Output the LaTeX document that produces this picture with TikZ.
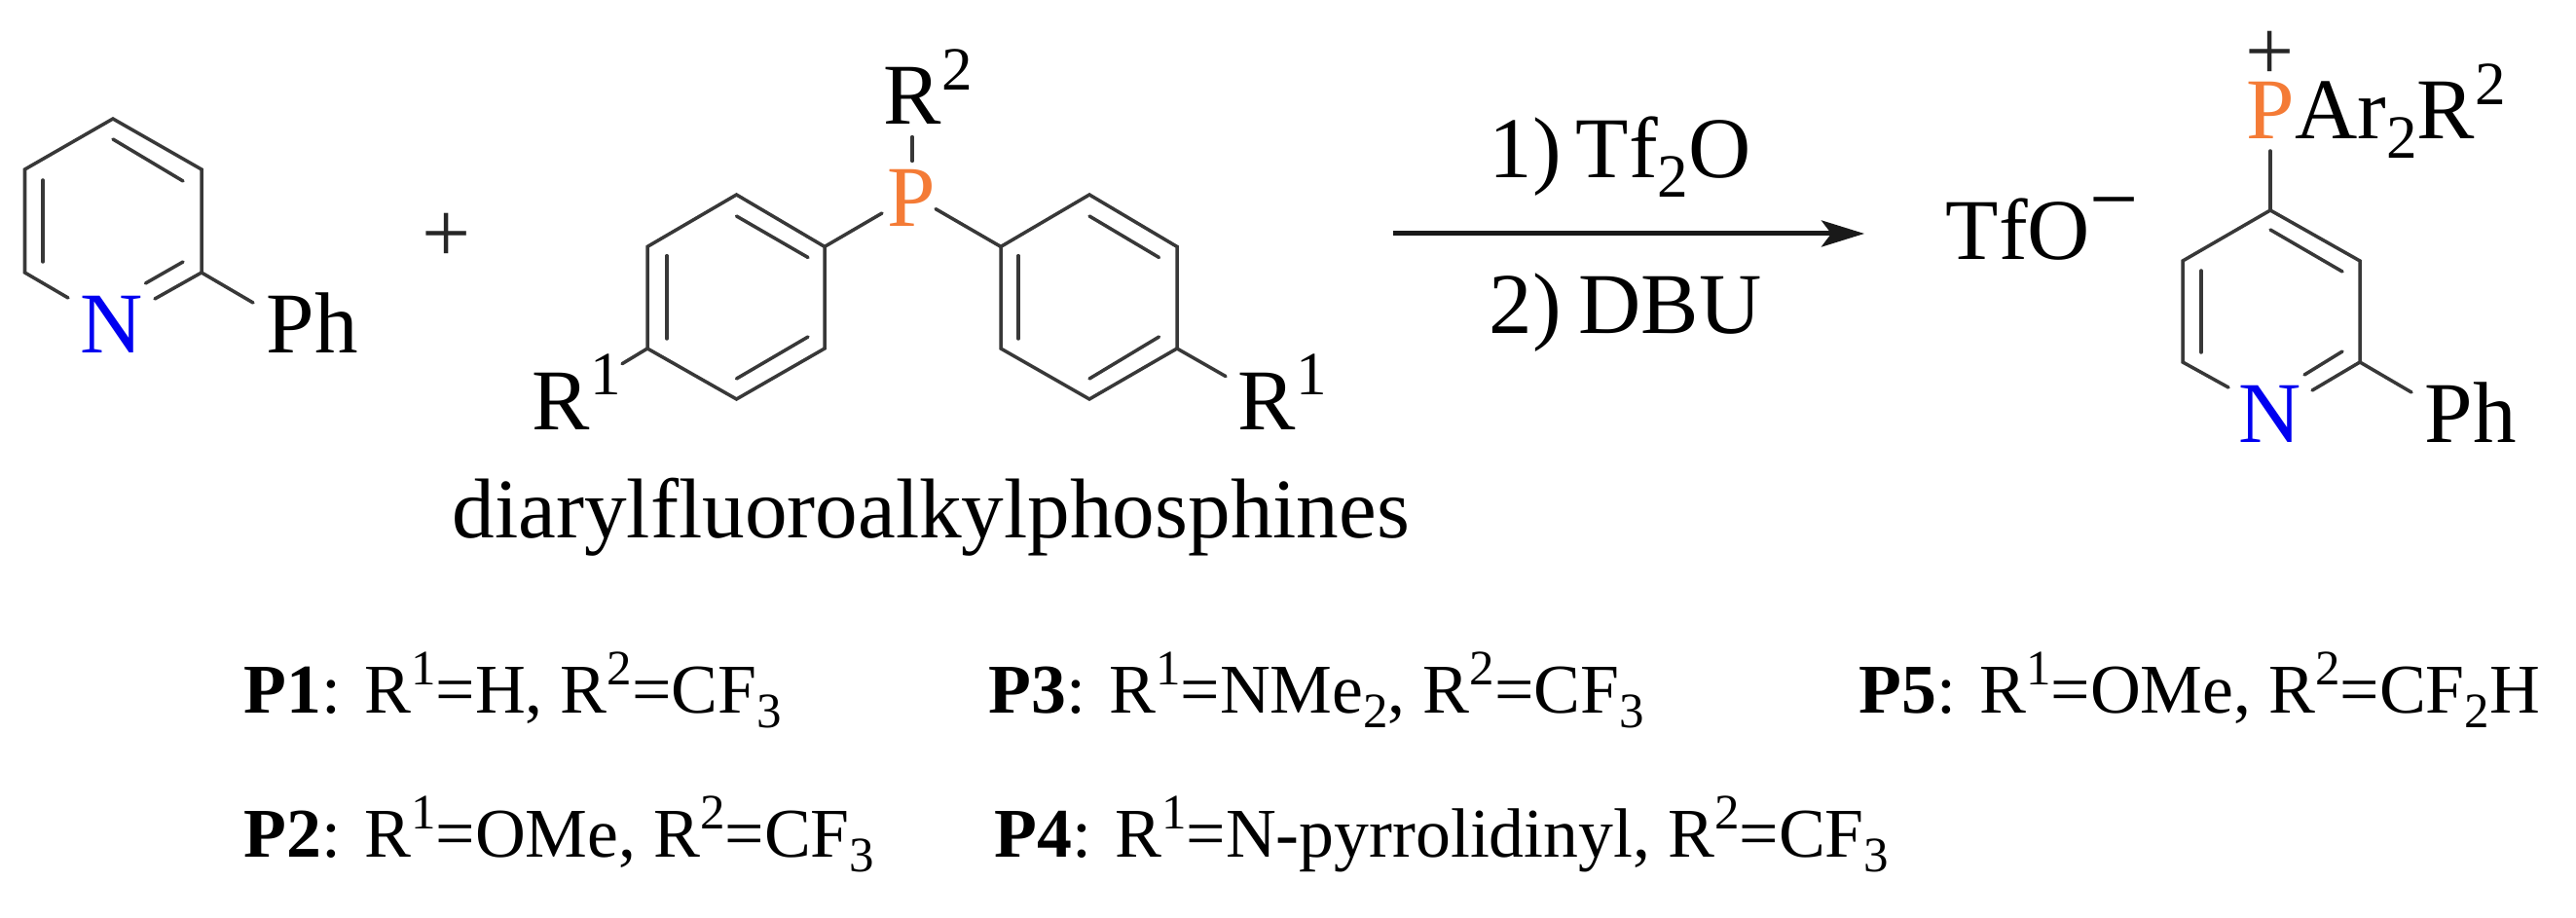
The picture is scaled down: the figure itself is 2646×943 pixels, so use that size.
\documentclass[tikz,border=0pt]{standalone}
\usepackage{fontspec}
\setmainfont[Ligatures={TeX,NoCommon}]{Liberation Serif}
\usetikzlibrary{arrows.meta}
\definecolor{porange}{HTML}{F47B36}
\definecolor{nblue}{HTML}{0000F0}
\definecolor{bondgray}{HTML}{383838}
\newlength\szbox
\newcommand\minisize{\setlength\szbox{.71em}\fontsize{\szbox}{\szbox}\selectfont}
\newcommand\supr[1]{\raisebox{.40em}{\minisize #1}}
\newcommand\subr[1]{\raisebox{-.22em}{\minisize #1}}
\newcommand\bigsize{\fontsize{25.3pt}{30pt}\selectfont}
\newcommand\listsize{\fontsize{20.4pt}{25pt}\selectfont}
\tikzset{
  bond/.style={draw=bondgray,line width=.035cm,line cap=round,line join=miter},
  reactline/.style={draw=black!90,line width=.05cm,-{Stealth[length=.44cm,width=.27cm,inset=.1cm]}},
  atomlab/.style={anchor=base west,inner sep=0pt,font=\bigsize,text=black},
  centerlab/.style={anchor=base,inner sep=0pt,font=\bigsize},
  listlab/.style={anchor=base west,inner sep=0pt,font=\listsize,text=black},
  signlab/.style={anchor=center,inner sep=0pt,font=\bigsize,text=black!85},
}
\begin{document}
\begin{tikzpicture}[x=0.01cm,y=-0.01cm]
\useasboundingbox (0,0) rectangle (2646,943);
% ---- 2-phenylpyridine
\coordinate (a1) at (116,122);
\coordinate (a2) at (207,174);
\coordinate (a3) at (207,280);
\coordinate (a4) at (25.5,280);
\coordinate (a5) at (25.5,174);
\coordinate (a1i) at (116,143);
\coordinate (a2i) at (188,186);
\coordinate (a3i) at (188,269);
\coordinate (a4i) at (44,269);
\coordinate (a5i) at (44,185);
\coordinate (aNl) at (70,306);
\coordinate (aNr) at (159,307);
\coordinate (aNi) at (149.5,291);
\coordinate (aPh) at (260,311);
\draw[bond] (aNl) -- (a4) -- (a5) -- (a1) -- (a2) -- (a3) -- (aNr);
\draw[bond] (a1i) -- (a2i);
\draw[bond] (a5i) -- (a4i);
\draw[bond] (a3i) -- (aNi);
\draw[bond] (a3) -- (aPh);
\node[centerlab,text=nblue] (aN) at (115,363) {N};
\node[atomlab] (aPhL) at (273,363) {Ph};
\node[signlab] (plus) at (459,244) {+};
% ---- phosphine
\coordinate (b1) at (756.5,200);
\coordinate (b2) at (847,253.4);
\coordinate (b3) at (847,358);
\coordinate (b4) at (756.5,410);
\coordinate (b5) at (665,358);
\coordinate (b6) at (665,253.4);
\coordinate (b1i) at (756.5,222);
\coordinate (b2i) at (830,264.5);
\coordinate (b3i) at (830,346);
\coordinate (b4i) at (756.5,389);
\coordinate (b5i) at (685,348);
\coordinate (b6i) at (685,262.7);
\draw[bond] (b1) -- (b2) -- (b3) -- (b4) -- (b5) -- (b6) -- cycle;
\draw[bond] (b1i) -- (b2i);
\draw[bond] (b3i) -- (b4i);
\draw[bond] (b5i) -- (b6i);
\coordinate (c1) at (1119,200);
\coordinate (c2) at (1209,253.4);
\coordinate (c3) at (1209,358);
\coordinate (c4) at (1119,410);
\coordinate (c5) at (1028,358);
\coordinate (c6) at (1028,253.4);
\coordinate (c1i) at (1119,222);
\coordinate (c2i) at (1190.5,264.5);
\coordinate (c3i) at (1190.5,346);
\coordinate (c4i) at (1119,389);
\coordinate (c5i) at (1046,348);
\coordinate (c6i) at (1046,262.7);
\draw[bond] (c1) -- (c2) -- (c3) -- (c4) -- (c5) -- (c6) -- cycle;
\draw[bond] (c1i) -- (c2i);
\draw[bond] (c3i) -- (c4i);
\draw[bond] (c5i) -- (c6i);
\node[centerlab,text=porange] (pP) at (936,233) {P};
\coordinate (pPl) at (906,219);
\coordinate (pPr) at (961,214.6);
\coordinate (pPu) at (937,165.4);
\coordinate (pR2) at (937,140.6);
\coordinate (pR1l) at (639,373.7);
\coordinate (pR1r) at (1259,386.6);
\draw[bond] (b2) -- (pPl);
\draw[bond] (c6) -- (pPr);
\draw[bond] (pPu) -- (pR2);
\draw[bond] (b5) -- (pR1l);
\draw[bond] (c3) -- (pR1r);
\node[atomlab] (r2) at (907,127.6) {R\supr{2}};
\node[atomlab] (r1l) at (546,441) {R\supr{1}};
\node[atomlab] (r1r) at (1271,441) {R\supr{1}};
\node[atomlab,font=\fontsize{24.8pt}{30pt}\selectfont] (cap) at (464,552) {diarylfluoroalkylphosphines};
% ---- reaction arrow
\coordinate (arrS) at (1431,240);
\coordinate (arrE) at (1915,240);
\draw[reactline] (arrS) -- (arrE);
\node[atomlab] (re1) at (1529,183) {1)\hspace{.17em}Tf\subr{2}O};
\node[atomlab] (re2) at (1529,343) {2)\hspace{.2em}DBU};
% ---- product
\node[atomlab] (tfo) at (1998,267) {TfO\raisebox{.36em}{−}};
\node[signlab] (pplus) at (2332,57) {+};
\node[atomlab] (par) at (2307,143) {\textcolor{porange}{P}Ar\subr{2}R\supr{2}};
\coordinate (d1) at (2332,216);
\coordinate (d2) at (2424,268);
\coordinate (d3) at (2424,372);
\coordinate (d4) at (2242,372);
\coordinate (d5) at (2242,268);
\coordinate (d1i) at (2332,236);
\coordinate (d2i) at (2406,279);
\coordinate (d3i) at (2406,361);
\coordinate (d4i) at (2261,362);
\coordinate (d5i) at (2261,278);
\coordinate (dNl) at (2289,398);
\coordinate (dNr) at (2375,401);
\coordinate (dNi) at (2367,385);
\coordinate (dPh) at (2477,403);
\coordinate (dPt) at (2332,155);
\draw[bond] (dNl) -- (d4) -- (d5) -- (d1) -- (d2) -- (d3) -- (dNr);
\draw[bond] (d1i) -- (d2i);
\draw[bond] (d5i) -- (d4i);
\draw[bond] (d3i) -- (dNi);
\draw[bond] (d3) -- (dPh);
\draw[bond] (dPt) -- (d1);
\node[centerlab,text=nblue] (dN) at (2332,455) {N};
\node[atomlab] (dPhL) at (2490,455) {Ph};
% ---- list
\node[listlab] (p1) at (250,732) {\textbf{P1}: R\supr{1}=H, R\supr{2}=CF\subr{3}};
\node[listlab] (p2) at (250,880) {\textbf{P2}: R\supr{1}=OMe, R\supr{2}=CF\subr{3}};
\node[listlab] (p3) at (1015,732) {\textbf{P3}: R\supr{1}=NMe\subr{2}, R\supr{2}=CF\subr{3}};
\node[listlab] (p4) at (1021,880) {\textbf{P4}: R\supr{1}=N-pyrrolidinyl, R\supr{2}=CF\subr{3}};
\node[listlab] (p5) at (1909,732) {\textbf{P5}: R\supr{1}=OMe, R\supr{2}=CF\subr{2}H};
\end{tikzpicture}
\end{document}
